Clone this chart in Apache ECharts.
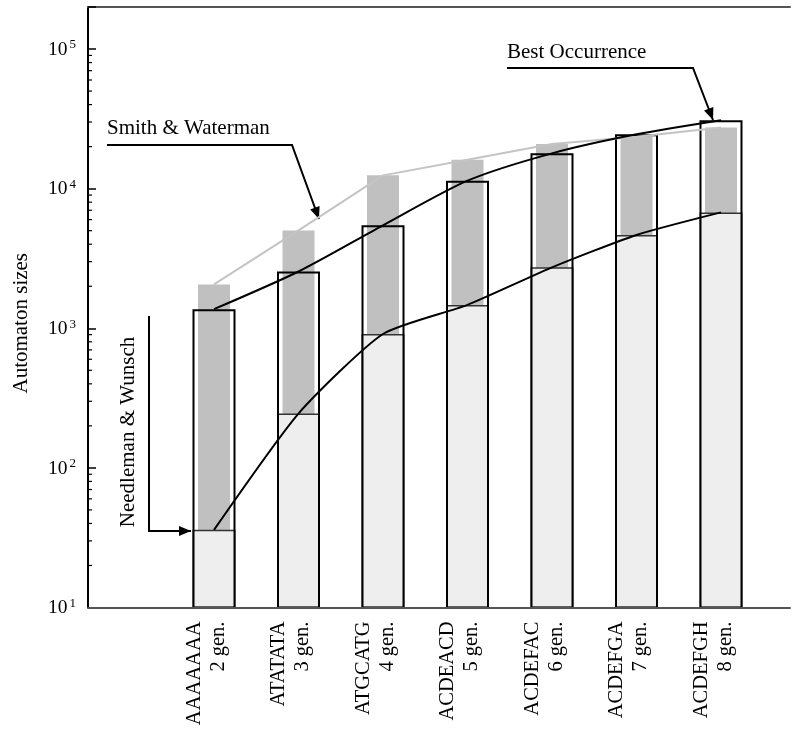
<!DOCTYPE html>
<html>
<head>
<meta charset="utf-8">
<title>Automaton sizes</title>
<script src="https://cdn.jsdelivr.net/npm/echarts@6/dist/echarts.min.js"></script>
<style>
html,body{margin:0;padding:0;background:#fff;}
#chart{width:799px;height:729px;}
</style>
</head>
<body>
<div id="chart"></div>
<script>
// sequences and number of generations
var sequences   = ['AAAAAAA', 'ATATATA', 'ATGCATG', 'ACDEACD', 'ACDEFAC', 'ACDEFGA', 'ACDEFGH'];
var generations = ['2 gen.', '3 gen.', '4 gen.', '5 gen.', '6 gen.', '7 gen.', '8 gen.'];

// automaton sizes
var needlemanWunsch = [36, 245, 910, 1470, 2730, 4660, 6760];
var smithWaterman   = [2060, 5020, 12450, 16100, 20900, 23500, 27400];
var bestOccurrence  = [1370, 2550, 5460, 11400, 17900, 24500, 30900];

// y axis range and minor tick multipliers
var yMin = 10, yMax = 200000;
var decades = [10, 100, 1000, 10000, 100000];
var minorSteps = [2, 3, 4, 5, 6, 7, 8, 9];

var FONT = "'Liberation Serif', 'Times New Roman', serif";

var categories = sequences.map(function (s, i) { return s + '\n' + generations[i]; });

// minor ticks of the log axis
var minorTicks = [];
decades.forEach(function (d) {
    minorSteps.forEach(function (m) {
        if (d * m < yMax) minorTicks.push([0, d * m]);
    });
});

// arrow head at (x2,y2) pointing along (x1,y1)->(x2,y2)
function arrowHead(x1, y1, x2, y2) {
    var len = 12, half = 5;
    var a = Math.atan2(y2 - y1, x2 - x1);
    var bx = x2 - len * Math.cos(a), by = y2 - len * Math.sin(a);
    return [[x2, y2],
            [bx + half * Math.sin(a), by - half * Math.cos(a)],
            [bx - half * Math.sin(a), by + half * Math.cos(a)]];
}

function annotation(text, tx, ty, rot, pts) {
    var n = pts.length;
    var txt = {
        type: 'text', x: tx, y: ty, rotation: rot || 0,
        style: {
            text: text, fill: '#000', font: '21px ' + FONT,
            align: rot ? 'center' : 'left', verticalAlign: 'middle'
        }
    };
    return [
        txt,
        { type: 'polyline', shape: { points: pts }, style: { stroke: '#000', lineWidth: 2, fill: null } },
        { type: 'polygon', shape: { points: arrowHead(pts[n - 2][0], pts[n - 2][1], pts[n - 1][0], pts[n - 1][1]) },
          style: { fill: '#000' } }
    ];
}

var chart = echarts.init(document.getElementById('chart'));

var option = {
    backgroundColor: '#fff',
    animation: false,
    grid: [
        { left: 88, right: 9, top: 7, bottom: 121.5 },          // frame
        { left: 171.75, right: 35.75, top: 7, bottom: 121.5 }   // bars
    ],
    xAxis: [
        { type: 'value', gridIndex: 0, min: 0, max: 1, position: 'bottom', z: 10,
          axisLine: { show: true, lineStyle: { color: '#555', width: 2 } },
          axisTick: { show: false }, axisLabel: { show: false }, splitLine: { show: false } },
        { type: 'value', gridIndex: 0, min: 0, max: 1, position: 'top',
          axisLine: { show: true, lineStyle: { color: '#555', width: 2 } },
          axisTick: { show: false }, axisLabel: { show: false }, splitLine: { show: false } },
        { type: 'category', gridIndex: 1, data: categories,
          axisLine: { show: false }, axisTick: { show: false },
          axisLabel: {
              interval: 0, rotate: 90, margin: 14,
              formatter: function (v) {
                  var p = v.split('\n');
                  return '{a|' + p[0] + '}\n{a|' + p[1] + '}\n{p| }';
              },
              rich: {
                  a: { fontFamily: FONT, fontSize: 20.5, lineHeight: 24, color: '#000' },
                  p: { fontSize: 8, lineHeight: 15 }
              }
          } },
        { type: 'category', gridIndex: 1, data: categories, show: false }
    ],
    yAxis: [
        { type: 'log', logBase: 10, gridIndex: 0, min: yMin, max: yMax,
          name: 'Automaton sizes', nameLocation: 'middle', nameGap: 56,
          nameTextStyle: { fontFamily: FONT, fontSize: 21, color: '#000', padding: [0, 32, 0, 0] },
          axisLine: { show: true, lineStyle: { color: '#000', width: 2 } },
          axisTick: { show: true, inside: true, length: 8, lineStyle: { color: '#000', width: 1.5 } },
          splitLine: { show: false },
          axisLabel: {
              margin: 12,
              formatter: function (v) {
                  var e = Math.log10(v);
                  if (Math.abs(e - Math.round(e)) > 1e-6) return '';
                  return '{b|10}{s|' + Math.round(e) + '}';
              },
              rich: {
                  b: { fontFamily: FONT, fontSize: 19.5, color: '#000', verticalAlign: 'bottom', lineHeight: 21 },
                  s: { fontFamily: FONT, fontSize: 13, color: '#000', verticalAlign: 'top', lineHeight: 13, padding: [0, 0, 0, 2] }
              }
          } },
        { type: 'log', logBase: 10, gridIndex: 1, min: yMin, max: yMax, show: false }
    ],
    series: [
        { name: 'minor ticks', type: 'custom', xAxisIndex: 0, yAxisIndex: 0, data: minorTicks,
          renderItem: function (params, api) {
              var p = api.coord([0, api.value(1)]);
              return { type: 'line', shape: { x1: p[0], y1: p[1], x2: p[0] + 4, y2: p[1] },
                       style: { stroke: '#000', lineWidth: 1.2 } };
          } },
        { name: 'Smith & Waterman', type: 'bar', xAxisIndex: 3, yAxisIndex: 1,
          data: smithWaterman, barWidth: 32,
          itemStyle: { color: '#c0c0c0' } },
        { name: 'Needleman & Wunsch', type: 'bar', xAxisIndex: 2, yAxisIndex: 1,
          data: needlemanWunsch, barWidth: 43, barGap: '-100%',
          itemStyle: { color: '#eeeeee', borderColor: '#333', borderWidth: 1.5 } },
        { name: 'Smith & Waterman line', type: 'line', xAxisIndex: 3, yAxisIndex: 1,
          data: smithWaterman, symbol: 'none',
          lineStyle: { color: '#c4c4c4', width: 2 } },
        { name: 'Best Occurrence', type: 'bar', xAxisIndex: 2, yAxisIndex: 1,
          data: bestOccurrence, barWidth: 43, barGap: '-100%',
          itemStyle: { color: 'rgba(0,0,0,0)', borderColor: '#000', borderWidth: 2 } },
        { name: 'Best Occurrence line', type: 'line', xAxisIndex: 2, yAxisIndex: 1,
          data: bestOccurrence, symbol: 'none', smooth: 0.25,
          lineStyle: { color: '#000', width: 2 } },
        { name: 'Needleman & Wunsch line', type: 'line', xAxisIndex: 2, yAxisIndex: 1,
          data: needlemanWunsch, symbol: 'none', smooth: 0.2,
          lineStyle: { color: '#000', width: 2 } }
    ],
    graphic: [].concat(
        annotation('Smith & Waterman', 107, 128, 0, [[107, 145], [292, 145], [319, 219]]),
        annotation('Best Occurrence', 507, 52, 0, [[507, 68], [693, 68], [713, 120]]),
        annotation('Needleman & Wunsch', 128, 432, Math.PI / 2, [[149, 316], [149, 531], [191, 531]])
    )
};

chart.setOption(option);
</script>
</body>
</html>
